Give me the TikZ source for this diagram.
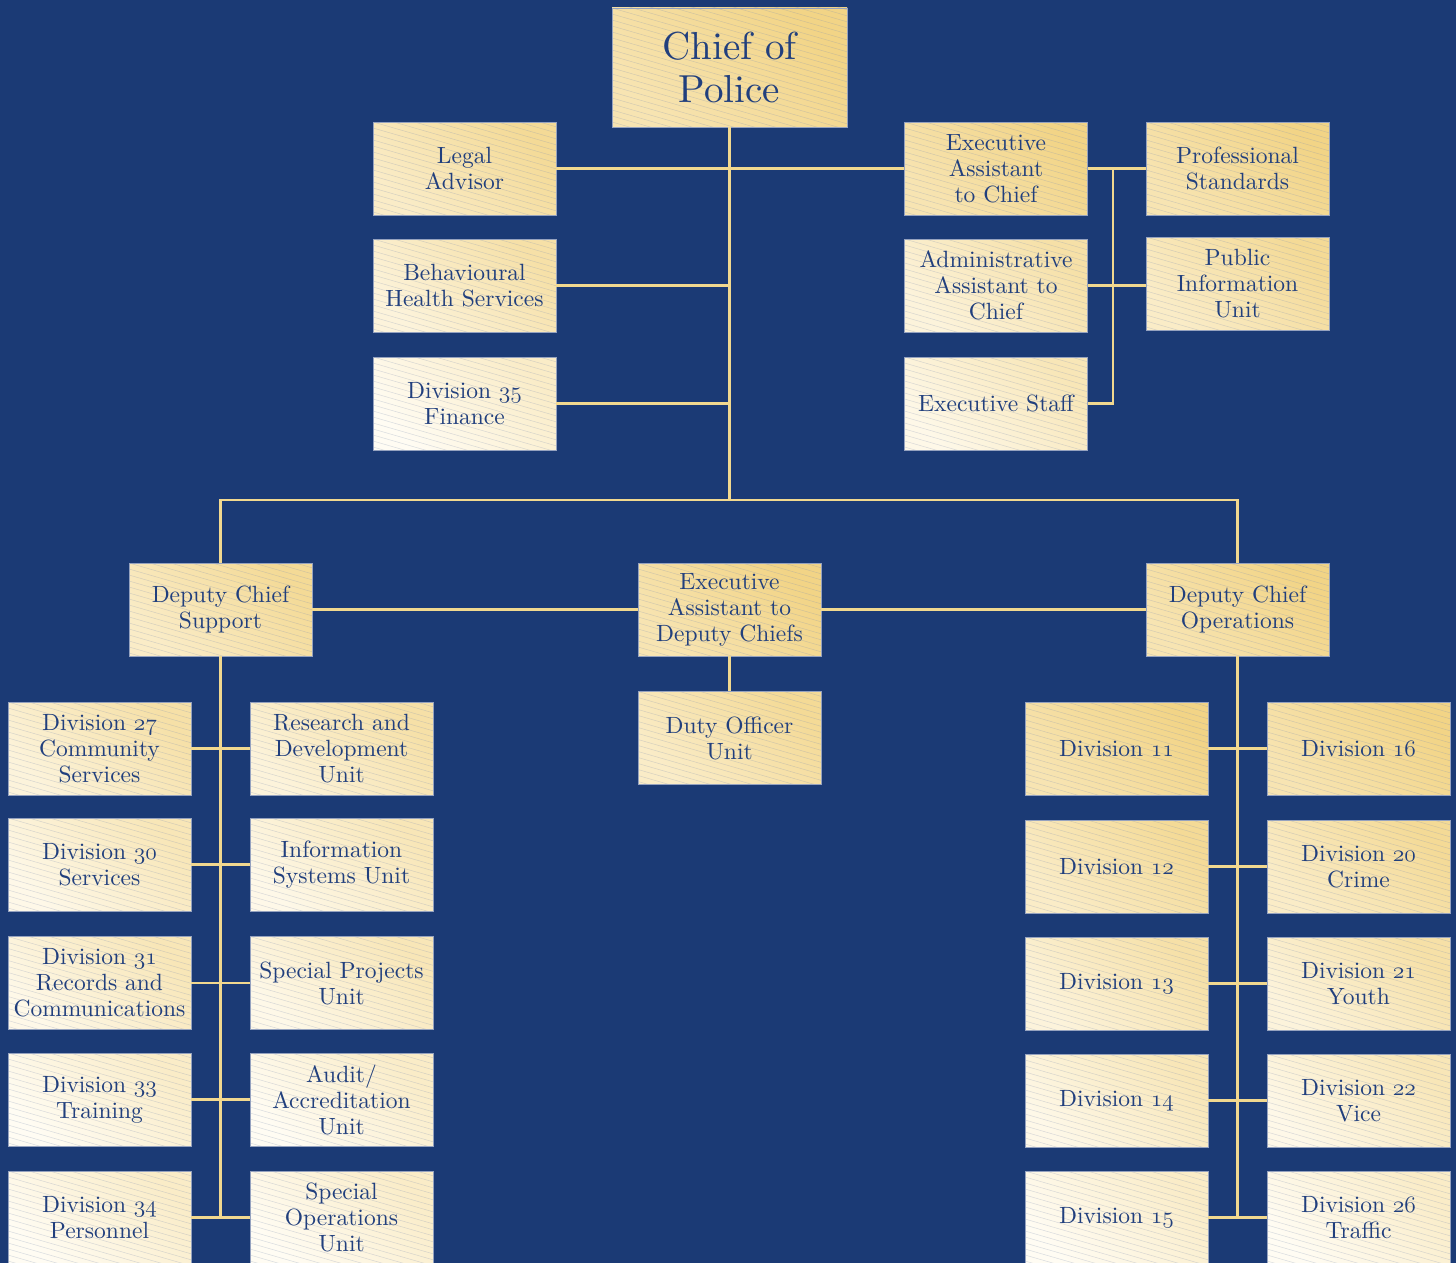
\RequirePackage{fix-cm}
\documentclass[tikz,border=0pt]{standalone}
\usepackage{fontspec}
\setmainfont{lmroman10-regular.otf}
\usetikzlibrary{calc}
\definecolor{bg}{HTML}{1B3A75}
\definecolor{gold}{HTML}{F2D486}
\definecolor{cream}{HTML}{FFFCF3}
\definecolor{ink}{HTML}{213F7D}
\definecolor{wire}{HTML}{F1D88F}
\definecolor{edgec}{HTML}{95A2BF}
\definecolor{hatchc}{HTML}{7F8FB3}
\newcommand{\osn}[1]{\legacyoldstylenums{#1}}
\tikzset{
  box/.style={draw=edgec, line width=0.8pt, minimum width=183pt, minimum height=93pt,
    inner sep=2pt, align=center, text=ink, font=\fontsize{23.5}{26}\selectfont,
    path picture={\foreach \k in {-22,...,12}{\draw[hatchc, line width=0.5pt, opacity=0.3]
      ([yshift=\k*6pt]path picture bounding box.north west) -- ++(260pt,-75pt);}}},
  l1/.style={box, top color=gold, bottom color=gold!60!cream, shading angle=-45},
  l2/.style={box, top color=gold!85!cream, bottom color=gold!40!cream, shading angle=-45},
  l3/.style={box, top color=gold!70!cream, bottom color=gold!22!cream, shading angle=-45},
  l4/.style={box, top color=gold!55!cream, bottom color=gold!10!cream, shading angle=-45},
  l5/.style={box, top color=gold!40!cream, bottom color=cream, shading angle=-45},
  wireline/.style={draw=wire, line width=2.6pt}
}
\begin{document}
\begin{tikzpicture}[x=1pt,y=-1pt]
\useasboundingbox (0,0) rectangle (1456,1263);
\fill[bg] (0,0) rectangle (1456,1263);

% top level
\node[l1, minimum width=235pt, minimum height=119pt, font=\fontsize{39}{43}\selectfont] (chief) at (729.5,67.5) {Chief of\\Police};
\node[l2] (legal) at (464.5,168.5) {Legal\\Advisor};
\node[l3] (bhs) at (464.5,285.5) {Behavioural\\Health Services};
\node[l5] (d35) at (464.5,403.5) {Division \osn{35}\\Finance};
\node[l1] (eac) at (996,168.5) {Executive\\Assistant\\to Chief};
\node[l3] (aac) at (996,285.5) {Administrative\\Assistant to\\Chief};
\node[l4] (exs) at (996,403.5) {Executive Staff};
\node[l1] (ps) at (1237.5,168.5) {Professional\\Standards};
\node[l2] (piu) at (1237.5,283.5) {Public\\Information\\Unit};

% deputies
\node[l2] (dcs) at (220.5,609.5) {Deputy Chief\\Support};
\node[l1] (ead) at (729.5,609.5) {Executive\\Assistant to\\Deputy Chiefs};
\node[l1] (dco) at (1237.5,609.5) {Deputy Chief\\Operations};
\node[l2] (duty) at (729.5,738) {Duty Officer\\Unit};

% left columns
\node[l3] (d27) at (99.5,748.5) {Division \osn{27}\\Community\\Services};
\node[l4] (d30) at (99.5,864.5) {Division \osn{30}\\Services};
\node[l4] (d31) at (99.5,983) {Division \osn{31}\\Records and\\Communications};
\node[l5] (d33) at (99.5,1099.5) {Division \osn{33}\\Training};
\node[l5] (d34) at (99.5,1217.5) {Division \osn{34}\\Personnel};
\node[l3] (rd) at (341.5,748.5) {Research and\\Development\\Unit};
\node[l4] (isu) at (341.5,864.5) {Information\\Systems Unit};
\node[l4] (spu) at (341.5,983) {Special Projects\\Unit};
\node[l5] (aud) at (341.5,1099.5) {Audit/\\Accreditation\\Unit};
\node[l5] (sou) at (341.5,1217.5) {Special\\Operations\\Unit};

% right columns
\node[l1] (d11) at (1116.5,748.5) {Division \osn{11}};
\node[l2] (d12) at (1116.5,866.5) {Division \osn{12}};
\node[l3] (d13) at (1116.5,983.5) {Division \osn{13}};
\node[l4] (d14) at (1116.5,1100.5) {Division \osn{14}};
\node[l5] (d15) at (1116.5,1217.5) {Division \osn{15}};
\node[l1] (d16) at (1358.5,748.5) {Division \osn{16}};
\node[l2] (d20) at (1358.5,866.5) {Division \osn{20}\\Crime};
\node[l3] (d21) at (1358.5,983.5) {Division \osn{21}\\Youth};
\node[l4] (d22) at (1358.5,1100.5) {Division \osn{22}\\Vice};
\node[l5] (d26) at (1358.5,1217.5) {Division \osn{26}\\Traffic};

% connectors
\coordinate (bus) at (729.5,500);
\coordinate (rt) at (1113,300);
\path[wireline] (chief.south) -- (bus);
\path[wireline] (legal.east) -- (eac.west);
\path[wireline] (bhs.east) -- (bhs.east -| chief.south);
\path[wireline] (d35.east) -- (d35.east -| chief.south);
\path[wireline] (eac.east) -- (ps.west);
\path[wireline] (aac.east) -- (aac.east -| piu.west);
\path[wireline] (eac.east -| rt) -- (exs.east -| rt) -- (exs.east);
\path[wireline] (dcs.north) |- (bus) -| (dco.north);
\path[wireline] (dcs.east) -- (ead.west);
\path[wireline] (ead.east) -- (dco.west);
\path[wireline] (ead.south) -- (duty.north);

\path[wireline] (dcs.south) -- (dcs.south |- d34.east);
\foreach \a/\b in {d27/rd,d30/isu,d31/spu,d33/aud,d34/sou}{\path[wireline] (\a.east) -- (\b.west);}
\path[wireline] (dco.south) -- (dco.south |- d15.east);
\foreach \a/\b in {d11/d16,d12/d20,d13/d21,d14/d22,d15/d26}{\path[wireline] (\a.east) -- (\b.west);}
\end{tikzpicture}
\end{document}
